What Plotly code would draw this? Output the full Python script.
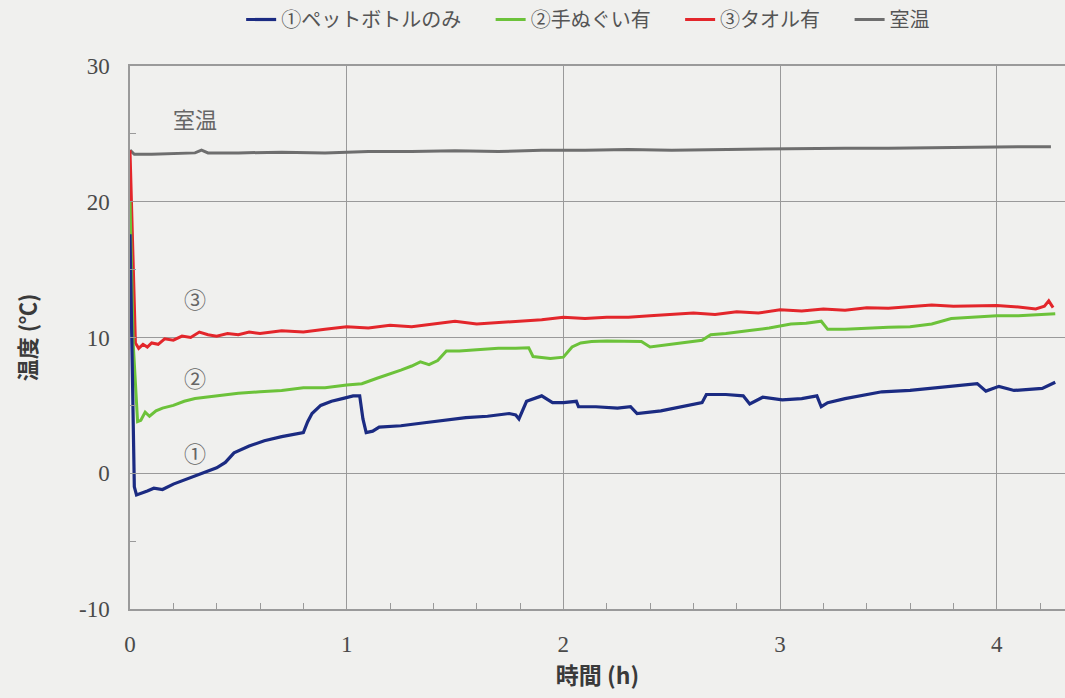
import plotly.graph_objects as go

# 経過時間 (h) と温度 (℃)
t_room = [0, 0.02, 0.1, 0.2, 0.3, 0.33, 0.36, 0.5, 0.7, 0.9, 1.1, 1.3, 1.5, 1.7, 1.9,
          2.1, 2.3, 2.5, 2.7, 2.9, 3.1, 3.3, 3.5, 3.7, 3.9, 4.1, 4.25]
T_room = [23.8, 23.5, 23.5, 23.55, 23.6, 23.8, 23.6, 23.6, 23.65, 23.6, 23.7, 23.7, 23.75,
          23.7, 23.8, 23.8, 23.85, 23.8, 23.85, 23.9, 23.9, 23.95, 23.95, 24.0, 24.0, 24.05, 24.05]

t_towel = [0, 0.01, 0.025, 0.04, 0.06, 0.08, 0.1, 0.13, 0.16, 0.2, 0.24, 0.28, 0.32, 0.36,
           0.4, 0.45, 0.5, 0.55, 0.6, 0.7, 0.8, 0.9, 1.0, 1.1, 1.2, 1.3, 1.4, 1.5, 1.6, 1.7,
           1.8, 1.9, 2.0, 2.1, 2.2, 2.3, 2.4, 2.5, 2.6, 2.7, 2.8, 2.9, 3.0, 3.1, 3.2, 3.3,
           3.4, 3.5, 3.6, 3.7, 3.8, 3.9, 4.0, 4.1, 4.18, 4.22, 4.24, 4.26]
T_towel = [23.8, 18.0, 9.6, 9.2, 9.5, 9.3, 9.6, 9.5, 9.9, 9.8, 10.1, 10.0, 10.4, 10.2,
           10.1, 10.3, 10.2, 10.4, 10.3, 10.5, 10.4, 10.6, 10.8, 10.7, 10.9, 10.8, 11.0, 11.2,
           11.0, 11.1, 11.2, 11.3, 11.5, 11.4, 11.5, 11.5, 11.6, 11.7, 11.8, 11.7, 11.9, 11.8,
           12.05, 11.95, 12.1, 12.0, 12.2, 12.15, 12.3, 12.4, 12.3, 12.35, 12.35, 12.25, 12.1,
           12.3, 12.7, 12.2]

t_tenugui = [0, 0.015, 0.035, 0.05, 0.07, 0.09, 0.12, 0.15, 0.2, 0.25, 0.3, 0.4, 0.5, 0.6,
             0.7, 0.8, 0.9, 1.0, 1.07, 1.14, 1.2, 1.25, 1.3, 1.34, 1.38, 1.42, 1.46, 1.52,
             1.6, 1.7, 1.78, 1.84, 1.86, 1.9, 1.94, 2.0, 2.04, 2.08, 2.13, 2.2, 2.3, 2.36,
             2.4, 2.5, 2.6, 2.64, 2.68, 2.75, 2.85, 2.95, 3.05, 3.12, 3.19, 3.22, 3.3, 3.4,
             3.5, 3.6, 3.7, 3.79, 3.9, 4.0, 4.1, 4.2, 4.27]
T_tenugui = [20.0, 9.5, 3.8, 3.9, 4.5, 4.2, 4.6, 4.8, 5.0, 5.3, 5.5, 5.7, 5.9, 6.0,
             6.1, 6.3, 6.3, 6.5, 6.6, 7.0, 7.3, 7.6, 7.9, 8.2, 8.0, 8.3, 9.0, 9.0,
             9.1, 9.2, 9.2, 9.25, 8.6, 8.5, 8.45, 8.55, 9.3, 9.6, 9.7, 9.75, 9.7, 9.7,
             9.3, 9.5, 9.7, 9.8, 10.2, 10.3, 10.5, 10.7, 11.0, 11.05, 11.2, 10.6, 10.6, 10.7,
             10.75, 10.8, 11.0, 11.4, 11.5, 11.6, 11.6, 11.7, 11.75]

t_bottle = [0, 0.01, 0.02, 0.03, 0.05, 0.08, 0.11, 0.15, 0.2, 0.25, 0.3, 0.35, 0.4, 0.44,
            0.48, 0.55, 0.62, 0.7, 0.76, 0.8, 0.82, 0.84, 0.88, 0.93, 0.98, 1.03, 1.06,
            1.075, 1.09, 1.12, 1.15, 1.25, 1.35, 1.45, 1.55, 1.65, 1.75, 1.78, 1.795, 1.83,
            1.9, 1.95, 2.0, 2.06, 2.07, 2.15, 2.25, 2.31, 2.34, 2.45, 2.55, 2.64, 2.66, 2.75,
            2.83, 2.86, 2.92, 3.01, 3.1, 3.17, 3.19, 3.22, 3.3, 3.4, 3.47, 3.6, 3.74, 3.85,
            3.91, 3.95, 4.01, 4.08, 4.15, 4.21, 4.27]
T_bottle = [17.6, 8.0, -1.0, -1.6, -1.5, -1.3, -1.1, -1.2, -0.8, -0.5, -0.2, 0.1, 0.4, 0.8,
            1.5, 2.0, 2.4, 2.7, 2.9, 3.0, 3.8, 4.4, 5.0, 5.3, 5.5, 5.7, 5.7,
            4.0, 3.0, 3.1, 3.4, 3.5, 3.7, 3.9, 4.1, 4.2, 4.4, 4.3, 4.0, 5.3,
            5.7, 5.2, 5.2, 5.3, 4.9, 4.9, 4.8, 4.9, 4.4, 4.6, 4.9, 5.2, 5.8, 5.8,
            5.7, 5.1, 5.6, 5.4, 5.5, 5.7, 4.9, 5.2, 5.5, 5.8, 6.0, 6.1, 6.35, 6.5,
            6.6, 6.05, 6.4, 6.1, 6.2, 6.25, 6.7]

series_names = ["①ペットボトルのみ", "②手ぬぐい有", "③タオル有", "室温"]
x_ticks = [0, 1, 2, 3, 4]
y_ticks = [-10, 0, 10, 20, 30]
y_tick_text = ["-10", "0", "10", "20", "30"]

JP = "Noto Sans CJK JP"
SERIF = "Liberation Serif"
TXT = "#4a4a4a"
GRID = "#9a9a9a"
BG = "#f0f0ee"
PAD = "\u3000\u00a0"  # extra room between legend entries


def entry(name, last=False):
    return name if last else name + PAD


fig = go.Figure()
# drawing order: room temp, towel, tenugui, bottle (bottle on top at the start)
fig.add_trace(go.Scatter(x=t_room, y=T_room, mode="lines", name=entry(series_names[3], True),
                         line=dict(color="#6e6e6e", width=3), legendrank=4))
fig.add_trace(go.Scatter(x=t_towel, y=T_towel, mode="lines", name=entry(series_names[2]),
                         line=dict(color="#e3262b", width=3), legendrank=3))
fig.add_trace(go.Scatter(x=t_tenugui, y=T_tenugui, mode="lines", name=entry(series_names[1]),
                         line=dict(color="#6cc23a", width=3), legendrank=2))
fig.add_trace(go.Scatter(x=t_bottle, y=T_bottle, mode="lines", name=entry(series_names[0]),
                         line=dict(color="#1b2b82", width=3.2), legendrank=1))

labels = [("室温", 0.3, 26.2), ("③", 0.3, 12.9), ("②", 0.3, 7.1), ("①", 0.3, 1.6)]
for txt, xv, yv in labels:
    fig.add_annotation(x=xv, y=yv, text=txt, showarrow=False,
                       font=dict(family=JP, size=22, color="#666666"))

fig.update_layout(
    width=1065, height=698, autosize=False,
    margin=dict(l=130, r=0, t=65, b=89),
    paper_bgcolor=BG, plot_bgcolor=BG,
    showlegend=True,
    legend=dict(orientation="h", x=0.49, xanchor="center", y=1.086, yanchor="middle",
                font=dict(family=JP, size=20, color="#555555"),
                bgcolor="rgba(0,0,0,0)", itemwidth=30, traceorder="normal"),
    xaxis=dict(range=[0, 4.315], tickvals=x_ticks, ticks="inside", ticklen=6,
               tickcolor=GRID, showline=True, linecolor=GRID, linewidth=1.5, mirror=True,
               showgrid=True, gridcolor=GRID, gridwidth=1, zeroline=False,
               minor=dict(dtick=0.2, ticks="inside", ticklen=6, tickcolor=GRID, showgrid=False),
               tickfont=dict(family=SERIF, size=23, color=TXT), ticklabelstandoff=14,
               title=dict(text="<b>時間 (h)</b>", font=dict(family=JP, size=23, color="#3a3a3a"),
                          standoff=6)),
    yaxis=dict(range=[-10, 30], tickvals=y_ticks, ticktext=y_tick_text, ticks="inside",
               ticklen=6, tickcolor=GRID, showline=True, linecolor=GRID, linewidth=1.5,
               showgrid=True, gridcolor=GRID, gridwidth=1, zeroline=False,
               minor=dict(dtick=5, ticks="inside", ticklen=6, tickcolor=GRID, showgrid=False),
               tickfont=dict(family=SERIF, size=23, color=TXT), ticklabelstandoff=14,
               title=dict(text="<b>温度 (℃)</b>", font=dict(family=JP, size=22, color="#3a3a3a"),
                          standoff=36)),
)

fig.write_html("out.html")
